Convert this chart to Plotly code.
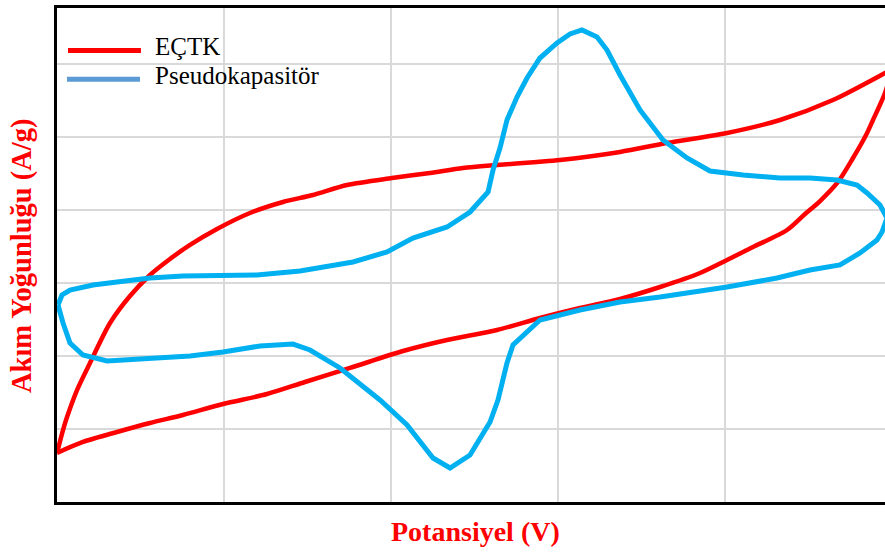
import plotly.graph_objects as go

# Potential (V) and current density (A/g)
ectk_upper_x = [0.0, 0.0072, 0.012, 0.024, 0.0395, 0.0635, 0.0874, 0.1114, 0.1353, 0.1593,
                0.1916, 0.2311, 0.2707, 0.3066, 0.3473, 0.4012, 0.4467, 0.4862, 0.5269, 0.5749,
                0.6024, 0.6743, 0.7305, 0.8024, 0.8659, 0.9293, 0.9916, 1.0]
ectk_upper_y = [-2.329, -2.014, -1.836, -1.466, -1.096, -0.548, -0.178, 0.110, 0.329, 0.521,
                0.740, 0.959, 1.110, 1.205, 1.342, 1.438, 1.507, 1.575, 1.616, 1.658,
                1.685, 1.795, 1.918, 2.055, 2.233, 2.507, 2.877, 2.93]
ectk_lower_x = [0.0, 0.0311, 0.0719, 0.1114, 0.1509, 0.1988, 0.2515, 0.2970, 0.3509, 0.4144,
                0.4671, 0.5269, 0.5784, 0.6263, 0.6743, 0.7222, 0.7701, 0.8024, 0.8335, 0.8743,
                0.8958, 0.9138, 0.9353, 0.9533, 0.9689, 0.9772, 0.9916, 1.0]
ectk_lower_y = [-2.329, -2.178, -2.041, -1.918, -1.808, -1.658, -1.521, -1.356, -1.164, -0.932,
                -0.781, -0.644, -0.479, -0.342, -0.219, -0.055, 0.137, 0.315, 0.493, 0.726,
                0.945, 1.123, 1.384, 1.712, 2.027, 2.233, 2.603, 2.93]

pseudo_x = [0.0012, 0.006, 0.0156, 0.0431, 0.0719, 0.1114, 0.1509, 0.1916, 0.2395, 0.2910,
            0.3545, 0.3952, 0.4263, 0.4671, 0.4946, 0.5162, 0.5222, 0.5305, 0.5389, 0.5509,
            0.5629, 0.5784, 0.5988, 0.6144, 0.6287, 0.6467, 0.6587, 0.6743, 0.6982, 0.7257,
            0.7545, 0.7820, 0.8216, 0.8659, 0.9018, 0.9341, 0.9581, 0.9701, 0.9856, 0.9940,
            0.9880, 0.9820, 0.9617, 0.9377, 0.9018, 0.8623, 0.8024, 0.7222, 0.6743, 0.6263,
            0.5784, 0.5461, 0.5389, 0.5281, 0.5186, 0.4946, 0.4707, 0.4503, 0.4192, 0.3868,
            0.3389, 0.3030, 0.2826, 0.2431, 0.1988, 0.1593, 0.1114, 0.0599, 0.0311, 0.0156,
            0.0072, 0.0012]
pseudo_y = [-0.301, -0.164, -0.096, -0.027, 0.014, 0.068, 0.096, 0.096, 0.110, 0.164,
            0.288, 0.425, 0.616, 0.767, 0.973, 1.247, 1.548, 1.849, 2.233, 2.548,
            2.808, 3.082, 3.288, 3.411, 3.466, 3.370, 3.192, 2.849, 2.370, 1.959,
            1.712, 1.534, 1.479, 1.438, 1.438, 1.411, 1.342, 1.233, 1.068, 0.890,
            0.699, 0.589, 0.411, 0.247, 0.178, 0.068, -0.055, -0.192, -0.260, -0.370,
            -0.507, -0.849, -1.096, -1.603, -1.904, -2.356, -2.534, -2.397, -1.945, -1.603,
            -1.164, -0.918, -0.836, -0.863, -0.945, -1.000, -1.041, -1.068, -0.986, -0.822,
            -0.548, -0.301]

series_names = ["EÇTK", "Pseudokapasitör"]
x_title = "Potansiyel (V)"
y_title = "Akım Yoğunluğu (A/g)"

RED = "#FF0000"
BLUE = "#00B0F0"
LEGEND_BLUE = "#5B9BD5"
SERIF = "Liberation Serif, Times New Roman, serif"

fig = go.Figure()
# two branches of the EÇTK voltammogram, each smoothed
fig.add_trace(go.Scatter(x=ectk_lower_x, y=ectk_lower_y, mode="lines",
                         line=dict(color=RED, width=4.5, shape="spline", smoothing=0.8),
                         showlegend=False, name=series_names[0]))
fig.add_trace(go.Scatter(x=ectk_upper_x, y=ectk_upper_y, mode="lines",
                         line=dict(color=RED, width=4.5, shape="spline", smoothing=0.8),
                         showlegend=False, name=series_names[0]))
fig.add_trace(go.Scatter(x=pseudo_x, y=pseudo_y, mode="lines",
                         line=dict(color=BLUE, width=5), showlegend=False,
                         name=series_names[1]))

# Legend drawn manually (long line samples)
fig.add_shape(type="line", xref="paper", yref="paper", x0=0.0133, x1=0.1014, y0=0.914, y1=0.914,
              line=dict(color=RED, width=5))
fig.add_shape(type="line", xref="paper", yref="paper", x0=0.0121, x1=0.1002, y0=0.856, y1=0.856,
              line=dict(color=LEGEND_BLUE, width=5))
fig.add_annotation(text=series_names[0], xref="paper", yref="paper", x=0.1160, y=0.923,
                   xanchor="left", yanchor="middle", showarrow=False,
                   font=dict(family=SERIF, size=25, color="#000000"))
fig.add_annotation(text=series_names[1], xref="paper", yref="paper", x=0.1160, y=0.864,
                   xanchor="left", yanchor="middle", showarrow=False,
                   font=dict(family=SERIF, size=25, color="#000000"))

# Axis titles
fig.add_annotation(text="<b>" + x_title + "</b>", xref="paper", yref="paper", x=0.505, y=-0.0607,
                   xanchor="center", yanchor="middle", showarrow=False,
                   font=dict(family=SERIF, size=28, color=RED))
fig.add_annotation(text="<b>" + y_title + "</b>", xref="paper", yref="paper", x=-0.0423, y=0.5,
                   xanchor="center", yanchor="middle", showarrow=False, textangle=-90,
                   font=dict(family=SERIF, size=28.5, color=RED))

fig.update_xaxes(range=[0, 0.9916], tick0=0, dtick=0.2, showticklabels=False, ticks="",
                 showgrid=True, gridcolor="#D9D9D9", gridwidth=2, zeroline=False,
                 showline=True, linecolor="#000000", linewidth=3, mirror=True)
fig.update_yaxes(range=[-3, 3.767], tick0=0, dtick=1, showticklabels=False, ticks="",
                 showgrid=True, gridcolor="#D9D9D9", gridwidth=2, zeroline=False,
                 showline=True, linecolor="#000000", linewidth=3, mirror=False)

fig.update_layout(width=885, height=552, margin=dict(l=57, r=0, t=8, b=50),
                  plot_bgcolor="#FFFFFF", paper_bgcolor="#FFFFFF", showlegend=False)

fig.write_html("out.html")
